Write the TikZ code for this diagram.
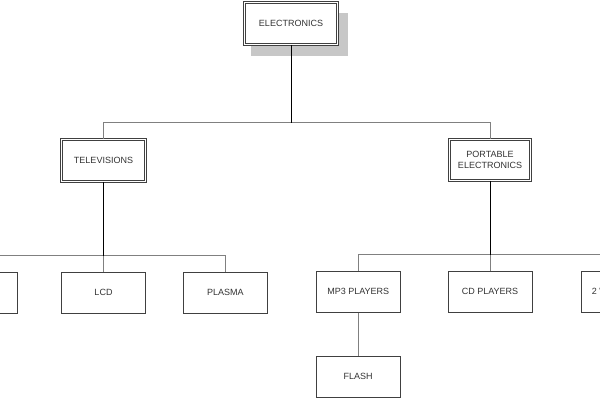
\documentclass[tikz,border=0pt]{standalone}
\usepackage{fontspec}
\setmainfont{Liberation Sans}
\usetikzlibrary{positioning, calc, backgrounds}

\begin{document}
\begin{tikzpicture}[x=1pt, y=-1pt,
    every node/.style={font=\fontsize{9}{11}\selectfont, text=black!80},
    unit/.style={draw=black!75, line width=0.8pt, fill=white, rectangle, minimum width=84pt, minimum height=41pt, align=center},
    head/.style={unit, double, double distance=1.5pt, line width=0.8pt},
    link/.style={draw=black!50, line width=0.9pt},
    trunk/.style={draw=black, line width=0.9pt}]
    \useasboundingbox (0,0) rectangle (600,400);
    \clip (0,0) rectangle (600,400);

    \node[head, minimum width=93pt, minimum height=42pt] (elec) at (291,23.5) {ELECTRONICS};
    \node[head, minimum width=84pt, minimum height=42pt] (tv) at (103.5,160.5) {TELEVISIONS};
    \node[head, minimum width=81pt, minimum height=41pt] (port) at (490,160) {PORTABLE\\ELECTRONICS};

    \node[unit, below=90pt of tv] (lcd) {LCD};
    \node[unit, left=43pt of lcd] (crt) {};
    \node[unit, right=37pt of lcd] (plasma) {PLASMA};

    \node[unit, below=90pt of port] (cd) {CD PLAYERS};
    \node[unit, left=47pt of cd] (mp3) {MP3 PLAYERS};
    \node[unit, right=49pt of cd] (radio) {2 WAY RADIOS};
    \node[unit, below=43pt of mp3] (flash) {FLASH};

    % shadow behind the top box
    \begin{scope}[on background layer]
        \fill[black!22] ($(elec.north west)+(7,11)$) rectangle ($(elec.south east)+(10,11)$);
    \end{scope}

    \coordinate[below=78pt of elec.south] (busA);
    \coordinate[below=74pt of tv.south] (busB);
    \coordinate[below=74pt of port.south] (busC);

    \draw[link] (tv.north) |- (busA) -| (port.north);
    \draw[link] (crt.north) |- (busB) -| (plasma.north);
    \draw[link] (lcd.north) -- (busB);
    \draw[link] (mp3.north) |- (busC) -| (radio.north);
    \draw[link] (cd.north) -- (busC);
    \draw[link] (mp3.south) -- (flash.north);

    \draw[trunk] (elec.south) -- (busA);
    \draw[trunk] (tv.south) -- (busB);
    \draw[trunk] (port.south) -- (busC);
\end{tikzpicture}
\end{document}
